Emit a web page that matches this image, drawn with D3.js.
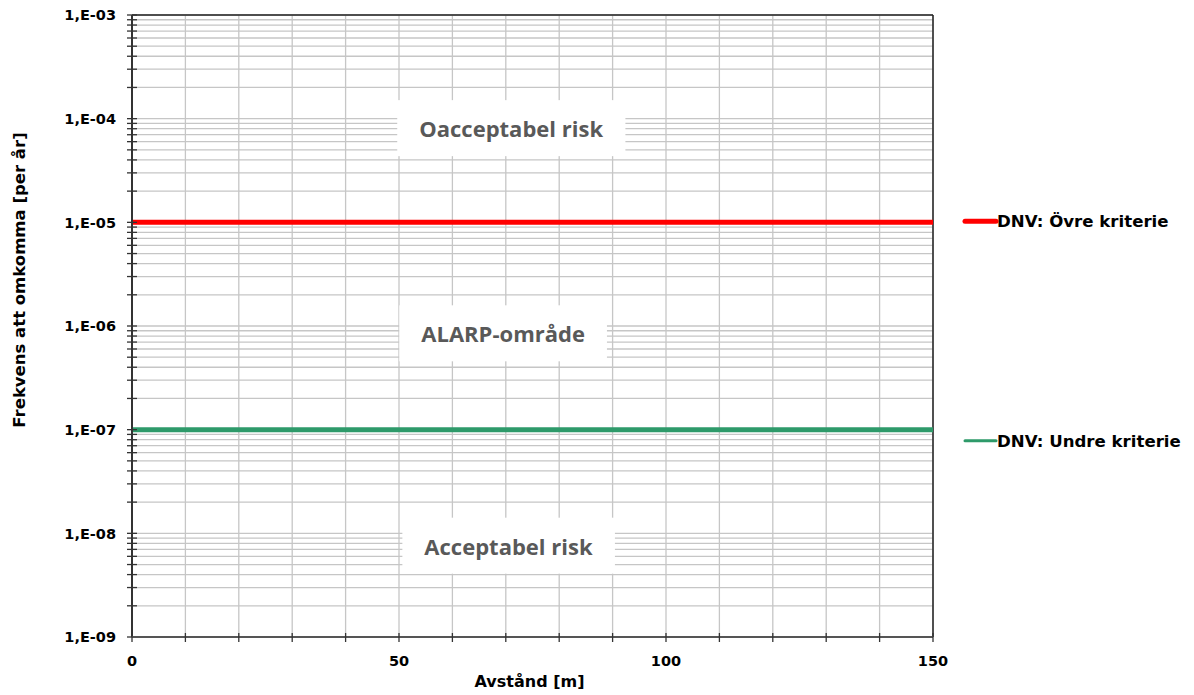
<!DOCTYPE html>
<html>
<head>
<meta charset="utf-8">
<script src="https://cdn.jsdelivr.net/npm/d3@7"></script>
<style>
  html, body { margin: 0; padding: 0; background: #fff; }
  svg { display: block; }
</style>
</head>
<body>
<svg id="chart" width="1194" height="695"></svg>
<script>
// Risk criteria (individual risk, per year) over distance
const xDomain = [0, 150];
const yDomain = [1e-9, 1e-3];
const xTickValues = [0, 50, 100, 150];
const yTickValues = [1e-9, 1e-8, 1e-7, 1e-6, 1e-5, 1e-4, 1e-3];
const yTickLabels = ["1,E-09", "1,E-08", "1,E-07", "1,E-06", "1,E-05", "1,E-04", "1,E-03"];

const seriesNames = ["DNV: Övre kriterie", "DNV: Undre kriterie"];
const seriesColors = ["#ff0000", "#2e9a6a"];
const upperCriterion = [[0, 1e-5], [150, 1e-5]];
const lowerCriterion = [[0, 1e-7], [150, 1e-7]];

// region labels: text, anchor distance [m], anchor frequency
const zoneLabels = ["Oacceptabel risk", "ALARP-område", "Acceptabel risk"];
const zoneX = [71, 69.5, 70.5];
const zoneY = [8.1e-5, 8.5e-7, 7.6e-9];

const svg = d3.select("#chart");
const margin = { left: 132, right: 261, top: 15, bottom: 58 };
const W = 1194, H = 695;
const x0 = margin.left, x1 = W - margin.right;
const y0 = H - margin.bottom, y1 = margin.top;

const x = d3.scaleLinear().domain(xDomain).range([x0, x1]);
const y = d3.scaleLog().domain(yDomain).range([y0, y1]);

const axisFont = "bold 14.5px 'DejaVu Sans', Verdana, sans-serif";

// minor log ticks 1..9 within each decade
const yMinor = [];
for (let e = -9; e < -3; e++) {
  for (let m = 1; m < 10; m++) yMinor.push(m * Math.pow(10, e));
}
yMinor.push(1e-3);
const xGrid = d3.range(0, 151, 10);

const grid = svg.append("g");
grid.selectAll("line.hy").data(yMinor).join("line")
  .attr("x1", x0).attr("x2", x1)
  .attr("y1", d => y(d)).attr("y2", d => y(d))
  .attr("stroke", "#c6c6c6").attr("stroke-width", 1.3);
grid.selectAll("line.vx").data(xGrid).join("line")
  .attr("x1", d => x(d)).attr("x2", d => x(d))
  .attr("y1", y0).attr("y2", y1)
  .attr("stroke", "#c6c6c6").attr("stroke-width", 1.3);

// region labels on white boxes
const zoneFont = "bold 22px 'Open Sans', sans-serif";
const zones = svg.append("g");
zoneLabels.forEach((t, i) => {
  const cy = y(zoneY[i]);
  const tx = zones.append("text")
    .attr("x", x(zoneX[i])).attr("y", cy)
    .attr("text-anchor", "middle").attr("dominant-baseline", "central")
    .style("font", zoneFont).attr("fill", "#595959").text(t);
  const bb = tx.node().getBBox();
  zones.insert("rect", "text")
    .attr("x", bb.x - 22).attr("y", cy - 28)
    .attr("width", bb.width + 44).attr("height", 56)
    .attr("fill", "#fff");
});

// top and right border
svg.append("line").attr("x1", x0).attr("x2", x1).attr("y1", y1).attr("y2", y1)
  .attr("stroke", "#222").attr("stroke-width", 1.5);
svg.append("line").attr("x1", x1).attr("x2", x1).attr("y1", y1).attr("y2", y0)
  .attr("stroke", "#222").attr("stroke-width", 1.5);

// criterion lines
const line = d3.line().x(d => x(d[0])).y(d => y(d[1]));
svg.append("path").datum(upperCriterion).attr("d", line)
  .attr("stroke", seriesColors[0]).attr("stroke-width", 5).attr("fill", "none");
svg.append("path").datum(lowerCriterion).attr("d", line)
  .attr("stroke", seriesColors[1]).attr("stroke-width", 5).attr("fill", "none");

// y axis
const yAxis = svg.append("g");
yAxis.append("line").attr("x1", x0).attr("x2", x0).attr("y1", y1).attr("y2", y0)
  .attr("stroke", "#333").attr("stroke-width", 2);
yAxis.selectAll("line.t").data(yMinor).join("line")
  .attr("x1", x0 - 5).attr("x2", x0 + 5)
  .attr("y1", d => y(d)).attr("y2", d => y(d))
  .attr("stroke", "#333").attr("stroke-width", 1.3);
yAxis.selectAll("text").data(yTickValues).join("text")
  .attr("x", x0 - 16).attr("y", d => y(d)).attr("dy", "0.36em")
  .attr("text-anchor", "end")
  .style("font", axisFont)
  .attr("fill", "#000")
  .text((d, i) => yTickLabels[i]);

// x axis
const xAxis = svg.append("g");
xAxis.append("line").attr("x1", x0).attr("x2", x1).attr("y1", y0).attr("y2", y0)
  .attr("stroke", "#555").attr("stroke-width", 2);
xAxis.selectAll("line.t").data(xGrid).join("line")
  .attr("x1", d => x(d)).attr("x2", d => x(d))
  .attr("y1", y0 - 4).attr("y2", y0 + 5)
  .attr("stroke", "#333").attr("stroke-width", 1.3);
xAxis.selectAll("text").data(xTickValues).join("text")
  .attr("x", d => x(d)).attr("y", y0 + 29)
  .attr("text-anchor", "middle")
  .style("font", "bold 14.5px 'DejaVu Sans', Verdana, sans-serif")
  .attr("fill", "#000").text(d => d);

// axis titles
svg.append("text")
  .attr("x", (x0 + x1) / 2 - 3).attr("y", y0 + 50)
  .attr("text-anchor", "middle")
  .style("font", "bold 16px 'DejaVu Sans', Verdana, sans-serif")
  .attr("fill", "#000").text("Avstånd [m]");
svg.append("text")
  .attr("transform", `translate(25, ${(y0 + y1) / 2 - 46}) rotate(-90)`)
  .attr("text-anchor", "middle")
  .style("font", "bold 16.5px 'DejaVu Sans', Verdana, sans-serif")
  .attr("fill", "#000").text("Frekvens att omkomma [per år]");

// legend
const legendY = [y(1e-5) - 1, y(1e-7) + 11];
const legendWidths = [5, 3];
const legend = svg.append("g");
seriesNames.forEach((name, i) => {
  legend.append("line")
    .attr("x1", 965).attr("x2", 996)
    .attr("y1", legendY[i]).attr("y2", legendY[i])
    .attr("stroke", seriesColors[i]).attr("stroke-width", legendWidths[i])
    .attr("stroke-linecap", "round");
  legend.append("text")
    .attr("x", 997).attr("y", legendY[i]).attr("dy", "0.36em")
    .style("font", "bold 16.6px 'DejaVu Sans', Verdana, sans-serif")
    .attr("fill", "#000").text(name);
});
</script>
</body>
</html>
